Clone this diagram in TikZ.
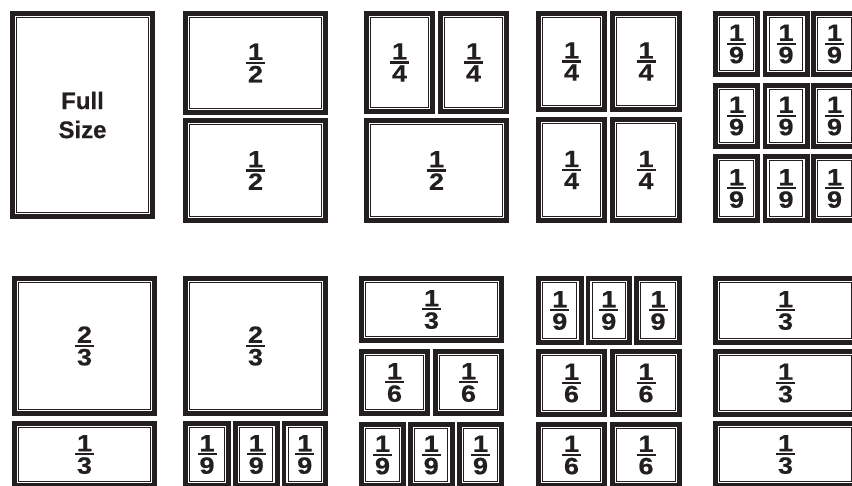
\documentclass[tikz,border=0pt]{standalone}
\usepackage{fontspec}
\setmainfont{Liberation Sans}[BoldFeatures={FakeBold=0.5}]
\newfontfamily\fracfont[BoldFont={Liberation Sans Bold}, BoldFeatures={FakeStretch=1.15, FakeBold=0.6}]{Liberation Sans}
\definecolor{ink}{HTML}{231F20}
\newcommand\fr[2]{{\fracfont\bfseries\fontsize{23.5}{29}\selectfont\vbox{\offinterlineskip\halign{\hfil##\hfil\cr#1\cr\noalign{\kern1.8pt}\vrule width 19pt height 2.4pt depth 0pt\cr\noalign{\kern1.8pt}#2\cr}}}}
\tikzset{
  frame/.style={draw=ink, line width=4.6pt, inner sep=0pt, outer sep=0pt,
    text=ink, font=\fontsize{24}{29}\selectfont\bfseries,
    path picture={\draw[ink, line width=1.1pt]
      ([shift={(4.6pt,4.6pt)}]path picture bounding box.south west) rectangle
      ([shift={(-4.6pt,-4.6pt)}]path picture bounding box.north east);}}
}
\newcommand\pane[6]{\node[frame, align=center,
  minimum width={(#4-#2-4.6)*1pt}, minimum height={(#5-#3-4.6)*1pt}]
  (#1) at ({(#2+#4)/2},{(#3+#5)/2}) {#6};}
\begin{document}
\begin{tikzpicture}[x=1pt,y=-1pt]
\useasboundingbox (0,0) rectangle (852,486);
\clip (0,0) rectangle (852,486);
% row 1
\pane{a1}{10}{11}{155}{219}{Full\\Size}
\pane{b1}{183}{11}{328}{115}{\fr{1}{2}}
\pane{b2}{183}{118}{328}{223}{\fr{1}{2}}
\pane{c1}{364}{11}{435}{114}{\fr{1}{4}}
\pane{c2}{438}{11}{509}{114}{\fr{1}{4}}
\pane{c3}{364}{118}{509}{223}{\fr{1}{2}}
\pane{d1}{536}{11}{607}{112}{\fr{1}{4}}
\pane{d2}{610}{11}{682}{112}{\fr{1}{4}}
\pane{d3}{536}{117}{607}{223}{\fr{1}{4}}
\pane{d4}{610}{117}{682}{223}{\fr{1}{4}}
\pane{e1}{713}{11}{760}{77}{\fr{1}{9}}
\pane{e2}{762.5}{11}{809.5}{77}{\fr{1}{9}}
\pane{e3}{811}{11}{858}{77}{\fr{1}{9}}
\pane{e4}{713}{83}{760}{149}{\fr{1}{9}}
\pane{e5}{762.5}{83}{809.5}{149}{\fr{1}{9}}
\pane{e6}{811}{83}{858}{149}{\fr{1}{9}}
\pane{e7}{713}{154}{760}{223}{\fr{1}{9}}
\pane{e8}{762.5}{154}{809.5}{223}{\fr{1}{9}}
\pane{e9}{811}{154}{858}{223}{\fr{1}{9}}
% row 2
\pane{f1}{12}{276}{157}{416}{\fr{2}{3}}
\pane{f2}{12}{421}{157}{488}{\fr{1}{3}}
\pane{g1}{183}{276}{328}{416}{\fr{2}{3}}
\pane{g2}{183}{421}{231}{488}{\fr{1}{9}}
\pane{g3}{233}{421}{279.5}{488}{\fr{1}{9}}
\pane{g4}{281.5}{421}{328}{488}{\fr{1}{9}}
\pane{h1}{359}{276}{504}{343}{\fr{1}{3}}
\pane{h2}{359}{349}{430}{416}{\fr{1}{6}}
\pane{h3}{433}{349}{504}{416}{\fr{1}{6}}
\pane{h4}{359}{422}{406}{488}{\fr{1}{9}}
\pane{h5}{408}{422}{454.5}{488}{\fr{1}{9}}
\pane{h6}{457}{422}{504}{488}{\fr{1}{9}}
\pane{i1}{536}{276}{583.5}{345}{\fr{1}{9}}
\pane{i2}{585.5}{276}{632}{345}{\fr{1}{9}}
\pane{i3}{634}{276}{682}{345}{\fr{1}{9}}
\pane{i4}{536}{349}{607}{417}{\fr{1}{6}}
\pane{i5}{610}{349}{682}{417}{\fr{1}{6}}
\pane{i6}{536}{422}{607}{488}{\fr{1}{6}}
\pane{i7}{610}{422}{682}{488}{\fr{1}{6}}
\pane{j1}{713}{276}{858}{345}{\fr{1}{3}}
\pane{j2}{713}{349}{858}{417}{\fr{1}{3}}
\pane{j3}{713}{421}{858}{488}{\fr{1}{3}}
\end{tikzpicture}
\end{document}
